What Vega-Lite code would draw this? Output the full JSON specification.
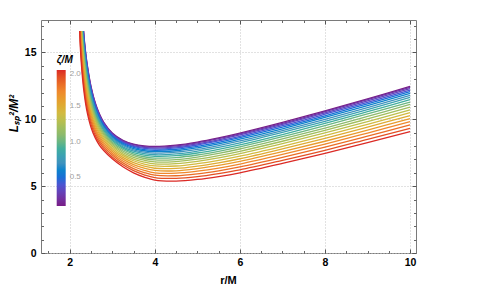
{
"$schema": "https://vega.github.io/schema/vega-lite/v6.json",
"width": 375, "height": 233,
"autosize": {"type": "none"},
"padding": {"left": 41, "top": 20, "right": 62, "bottom": 55},
"background": "white",
"config": {"view": {"stroke": "#7a7a7a", "strokeWidth": 1}, "axis": {"grid": false, "domain": false, "labels": false, "ticks": false}},
"data": {"values": [
{"z":0.1,"r":2.3266,"L":16.6},{"z":0.1,"r":2.35,"L":15.73},{"z":0.1,"r":2.4,"L":14.36},{"z":0.1,"r":2.5,"L":12.47},{"z":0.1,"r":2.6,"L":11.24},{"z":0.1,"r":2.7,"L":10.39},{"z":0.1,"r":2.8,"L":9.78},{"z":0.1,"r":3,"L":8.98},{"z":0.1,"r":3.25,"L":8.43},{"z":0.1,"r":3.5,"L":8.14},{"z":0.1,"r":3.75,"L":8.01},{"z":0.1,"r":4,"L":7.97},{"z":0.1,"r":4.5,"L":8.07},{"z":0.1,"r":5,"L":8.30},{"z":0.1,"r":5.5,"L":8.61},{"z":0.1,"r":6,"L":8.97},{"z":0.1,"r":7,"L":9.77},{"z":0.1,"r":8,"L":10.63},{"z":0.1,"r":9,"L":11.53},{"z":0.1,"r":10,"L":12.46},
{"z":0.2,"r":2.3242,"L":16.6},{"z":0.2,"r":2.35,"L":15.65},{"z":0.2,"r":2.4,"L":14.28},{"z":0.2,"r":2.5,"L":12.40},{"z":0.2,"r":2.6,"L":11.18},{"z":0.2,"r":2.7,"L":10.34},{"z":0.2,"r":2.8,"L":9.73},{"z":0.2,"r":3,"L":8.94},{"z":0.2,"r":3.25,"L":8.39},{"z":0.2,"r":3.5,"L":8.10},{"z":0.2,"r":3.75,"L":7.96},{"z":0.2,"r":4,"L":7.92},{"z":0.2,"r":4.5,"L":8.01},{"z":0.2,"r":5,"L":8.24},{"z":0.2,"r":5.5,"L":8.55},{"z":0.2,"r":6,"L":8.91},{"z":0.2,"r":7,"L":9.70},{"z":0.2,"r":8,"L":10.57},{"z":0.2,"r":9,"L":11.47},{"z":0.2,"r":10,"L":12.39},
{"z":0.3,"r":2.3211,"L":16.6},{"z":0.3,"r":2.35,"L":15.54},{"z":0.3,"r":2.4,"L":14.18},{"z":0.3,"r":2.5,"L":12.32},{"z":0.3,"r":2.6,"L":11.11},{"z":0.3,"r":2.7,"L":10.28},{"z":0.3,"r":2.8,"L":9.68},{"z":0.3,"r":3,"L":8.89},{"z":0.3,"r":3.25,"L":8.33},{"z":0.3,"r":3.5,"L":8.04},{"z":0.3,"r":3.75,"L":7.90},{"z":0.3,"r":4,"L":7.85},{"z":0.3,"r":4.5,"L":7.94},{"z":0.3,"r":5,"L":8.17},{"z":0.3,"r":5.5,"L":8.47},{"z":0.3,"r":6,"L":8.83},{"z":0.3,"r":7,"L":9.62},{"z":0.3,"r":8,"L":10.48},{"z":0.3,"r":9,"L":11.38},{"z":0.3,"r":10,"L":12.30},
{"z":0.4,"r":2.3173,"L":16.6},{"z":0.4,"r":2.35,"L":15.41},{"z":0.4,"r":2.4,"L":14.07},{"z":0.4,"r":2.5,"L":12.22},{"z":0.4,"r":2.6,"L":11.03},{"z":0.4,"r":2.7,"L":10.20},{"z":0.4,"r":2.8,"L":9.61},{"z":0.4,"r":3,"L":8.83},{"z":0.4,"r":3.25,"L":8.27},{"z":0.4,"r":3.5,"L":7.97},{"z":0.4,"r":3.75,"L":7.83},{"z":0.4,"r":4,"L":7.77},{"z":0.4,"r":4.5,"L":7.86},{"z":0.4,"r":5,"L":8.08},{"z":0.4,"r":5.5,"L":8.38},{"z":0.4,"r":6,"L":8.73},{"z":0.4,"r":7,"L":9.52},{"z":0.4,"r":8,"L":10.38},{"z":0.4,"r":9,"L":11.27},{"z":0.4,"r":10,"L":12.19},
{"z":0.5,"r":2.3130,"L":16.6},{"z":0.5,"r":2.35,"L":15.27},{"z":0.5,"r":2.4,"L":13.94},{"z":0.5,"r":2.5,"L":12.11},{"z":0.5,"r":2.6,"L":10.93},{"z":0.5,"r":2.7,"L":10.12},{"z":0.5,"r":2.8,"L":9.53},{"z":0.5,"r":3,"L":8.76},{"z":0.5,"r":3.25,"L":8.20},{"z":0.5,"r":3.5,"L":7.90},{"z":0.5,"r":3.75,"L":7.74},{"z":0.5,"r":4,"L":7.68},{"z":0.5,"r":4.5,"L":7.76},{"z":0.5,"r":5,"L":7.98},{"z":0.5,"r":5.5,"L":8.28},{"z":0.5,"r":6,"L":8.63},{"z":0.5,"r":7,"L":9.41},{"z":0.5,"r":8,"L":10.26},{"z":0.5,"r":9,"L":11.16},{"z":0.5,"r":10,"L":12.07},
{"z":0.6,"r":2.3082,"L":16.6},{"z":0.6,"r":2.35,"L":15.11},{"z":0.6,"r":2.4,"L":13.79},{"z":0.6,"r":2.5,"L":11.99},{"z":0.6,"r":2.6,"L":10.83},{"z":0.6,"r":2.7,"L":10.03},{"z":0.6,"r":2.8,"L":9.45},{"z":0.6,"r":3,"L":8.68},{"z":0.6,"r":3.25,"L":8.12},{"z":0.6,"r":3.5,"L":7.81},{"z":0.6,"r":3.75,"L":7.65},{"z":0.6,"r":4,"L":7.58},{"z":0.6,"r":4.5,"L":7.65},{"z":0.6,"r":5,"L":7.87},{"z":0.6,"r":5.5,"L":8.16},{"z":0.6,"r":6,"L":8.51},{"z":0.6,"r":7,"L":9.29},{"z":0.6,"r":8,"L":10.14},{"z":0.6,"r":9,"L":11.03},{"z":0.6,"r":10,"L":11.94},
{"z":0.7,"r":2.3028,"L":16.6},{"z":0.7,"r":2.35,"L":14.93},{"z":0.7,"r":2.4,"L":13.63},{"z":0.7,"r":2.5,"L":11.86},{"z":0.7,"r":2.6,"L":10.72},{"z":0.7,"r":2.7,"L":9.93},{"z":0.7,"r":2.8,"L":9.36},{"z":0.7,"r":3,"L":8.60},{"z":0.7,"r":3.25,"L":8.04},{"z":0.7,"r":3.5,"L":7.72},{"z":0.7,"r":3.75,"L":7.55},{"z":0.7,"r":4,"L":7.47},{"z":0.7,"r":4.5,"L":7.54},{"z":0.7,"r":5,"L":7.75},{"z":0.7,"r":5.5,"L":8.04},{"z":0.7,"r":6,"L":8.38},{"z":0.7,"r":7,"L":9.16},{"z":0.7,"r":8,"L":10.00},{"z":0.7,"r":9,"L":10.88},{"z":0.7,"r":10,"L":11.79},
{"z":0.8,"r":2.2979,"L":16.6},{"z":0.8,"r":2.3,"L":16.49},{"z":0.8,"r":2.35,"L":14.74},{"z":0.8,"r":2.4,"L":13.46},{"z":0.8,"r":2.5,"L":11.72},{"z":0.8,"r":2.6,"L":10.59},{"z":0.8,"r":2.7,"L":9.82},{"z":0.8,"r":2.8,"L":9.26},{"z":0.8,"r":3,"L":8.51},{"z":0.8,"r":3.25,"L":7.94},{"z":0.8,"r":3.5,"L":7.62},{"z":0.8,"r":3.75,"L":7.44},{"z":0.8,"r":4,"L":7.35},{"z":0.8,"r":4.5,"L":7.41},{"z":0.8,"r":5,"L":7.62},{"z":0.8,"r":5.5,"L":7.90},{"z":0.8,"r":6,"L":8.24},{"z":0.8,"r":7,"L":9.02},{"z":0.8,"r":8,"L":9.85},{"z":0.8,"r":9,"L":10.73},{"z":0.8,"r":10,"L":11.64},
{"z":0.9,"r":2.2934,"L":16.6},{"z":0.9,"r":2.3,"L":16.27},{"z":0.9,"r":2.35,"L":14.54},{"z":0.9,"r":2.4,"L":13.28},{"z":0.9,"r":2.5,"L":11.57},{"z":0.9,"r":2.6,"L":10.46},{"z":0.9,"r":2.7,"L":9.70},{"z":0.9,"r":2.8,"L":9.16},{"z":0.9,"r":3,"L":8.41},{"z":0.9,"r":3.25,"L":7.85},{"z":0.9,"r":3.5,"L":7.51},{"z":0.9,"r":3.75,"L":7.32},{"z":0.9,"r":4,"L":7.23},{"z":0.9,"r":4.5,"L":7.28},{"z":0.9,"r":5,"L":7.48},{"z":0.9,"r":5.5,"L":7.76},{"z":0.9,"r":6,"L":8.09},{"z":0.9,"r":7,"L":8.86},{"z":0.9,"r":8,"L":9.69},{"z":0.9,"r":9,"L":10.57},{"z":0.9,"r":10,"L":11.47},
{"z":1.0,"r":2.2887,"L":16.6},{"z":1.0,"r":2.3,"L":16.04},{"z":1.0,"r":2.35,"L":14.33},{"z":1.0,"r":2.4,"L":13.09},{"z":1.0,"r":2.5,"L":11.41},{"z":1.0,"r":2.6,"L":10.33},{"z":1.0,"r":2.7,"L":9.58},{"z":1.0,"r":2.8,"L":9.05},{"z":1.0,"r":3,"L":8.31},{"z":1.0,"r":3.25,"L":7.74},{"z":1.0,"r":3.5,"L":7.40},{"z":1.0,"r":3.75,"L":7.20},{"z":1.0,"r":4,"L":7.10},{"z":1.0,"r":4.5,"L":7.14},{"z":1.0,"r":5,"L":7.33},{"z":1.0,"r":5.5,"L":7.61},{"z":1.0,"r":6,"L":7.94},{"z":1.0,"r":7,"L":8.70},{"z":1.0,"r":8,"L":9.53},{"z":1.0,"r":9,"L":10.40},{"z":1.0,"r":10,"L":11.29},
{"z":1.1,"r":2.2836,"L":16.6},{"z":1.1,"r":2.3,"L":15.79},{"z":1.1,"r":2.35,"L":14.11},{"z":1.1,"r":2.4,"L":12.89},{"z":1.1,"r":2.5,"L":11.24},{"z":1.1,"r":2.6,"L":10.18},{"z":1.1,"r":2.7,"L":9.46},{"z":1.1,"r":2.8,"L":8.93},{"z":1.1,"r":3,"L":8.20},{"z":1.1,"r":3.25,"L":7.63},{"z":1.1,"r":3.5,"L":7.28},{"z":1.1,"r":3.75,"L":7.07},{"z":1.1,"r":4,"L":6.96},{"z":1.1,"r":4.5,"L":6.99},{"z":1.1,"r":5,"L":7.18},{"z":1.1,"r":5.5,"L":7.45},{"z":1.1,"r":6,"L":7.78},{"z":1.1,"r":7,"L":8.54},{"z":1.1,"r":8,"L":9.35},{"z":1.1,"r":9,"L":10.22},{"z":1.1,"r":10,"L":11.11},
{"z":1.2,"r":2.2782,"L":16.6},{"z":1.2,"r":2.3,"L":15.54},{"z":1.2,"r":2.35,"L":13.88},{"z":1.2,"r":2.4,"L":12.68},{"z":1.2,"r":2.5,"L":11.06},{"z":1.2,"r":2.6,"L":10.03},{"z":1.2,"r":2.7,"L":9.32},{"z":1.2,"r":2.8,"L":8.81},{"z":1.2,"r":3,"L":8.09},{"z":1.2,"r":3.25,"L":7.52},{"z":1.2,"r":3.5,"L":7.16},{"z":1.2,"r":3.75,"L":6.94},{"z":1.2,"r":4,"L":6.81},{"z":1.2,"r":4.5,"L":6.84},{"z":1.2,"r":5,"L":7.02},{"z":1.2,"r":5.5,"L":7.29},{"z":1.2,"r":6,"L":7.61},{"z":1.2,"r":7,"L":8.36},{"z":1.2,"r":8,"L":9.17},{"z":1.2,"r":9,"L":10.03},{"z":1.2,"r":10,"L":10.91},
{"z":1.3,"r":2.2725,"L":16.6},{"z":1.3,"r":2.3,"L":15.27},{"z":1.3,"r":2.35,"L":13.64},{"z":1.3,"r":2.4,"L":12.46},{"z":1.3,"r":2.5,"L":10.88},{"z":1.3,"r":2.6,"L":9.87},{"z":1.3,"r":2.7,"L":9.18},{"z":1.3,"r":2.8,"L":8.68},{"z":1.3,"r":3,"L":7.98},{"z":1.3,"r":3.25,"L":7.40},{"z":1.3,"r":3.5,"L":7.03},{"z":1.3,"r":3.75,"L":6.80},{"z":1.3,"r":4,"L":6.66},{"z":1.3,"r":4.5,"L":6.68},{"z":1.3,"r":5,"L":6.85},{"z":1.3,"r":5.5,"L":7.11},{"z":1.3,"r":6,"L":7.43},{"z":1.3,"r":7,"L":8.18},{"z":1.3,"r":8,"L":8.98},{"z":1.3,"r":9,"L":9.83},{"z":1.3,"r":10,"L":10.71},
{"z":1.4,"r":2.2664,"L":16.6},{"z":1.4,"r":2.3,"L":14.99},{"z":1.4,"r":2.35,"L":13.38},{"z":1.4,"r":2.4,"L":12.23},{"z":1.4,"r":2.5,"L":10.69},{"z":1.4,"r":2.6,"L":9.71},{"z":1.4,"r":2.7,"L":9.04},{"z":1.4,"r":2.8,"L":8.55},{"z":1.4,"r":3,"L":7.86},{"z":1.4,"r":3.25,"L":7.28},{"z":1.4,"r":3.5,"L":6.90},{"z":1.4,"r":3.75,"L":6.65},{"z":1.4,"r":4,"L":6.51},{"z":1.4,"r":4.5,"L":6.51},{"z":1.4,"r":5,"L":6.68},{"z":1.4,"r":5.5,"L":6.93},{"z":1.4,"r":6,"L":7.24},{"z":1.4,"r":7,"L":7.98},{"z":1.4,"r":8,"L":8.78},{"z":1.4,"r":9,"L":9.63},{"z":1.4,"r":10,"L":10.50},
{"z":1.5,"r":2.2600,"L":16.6},{"z":1.5,"r":2.3,"L":14.70},{"z":1.5,"r":2.35,"L":13.12},{"z":1.5,"r":2.4,"L":11.99},{"z":1.5,"r":2.5,"L":10.49},{"z":1.5,"r":2.6,"L":9.54},{"z":1.5,"r":2.7,"L":8.89},{"z":1.5,"r":2.8,"L":8.42},{"z":1.5,"r":3,"L":7.73},{"z":1.5,"r":3.25,"L":7.15},{"z":1.5,"r":3.5,"L":6.76},{"z":1.5,"r":3.75,"L":6.50},{"z":1.5,"r":4,"L":6.34},{"z":1.5,"r":4.5,"L":6.33},{"z":1.5,"r":5,"L":6.50},{"z":1.5,"r":5.5,"L":6.75},{"z":1.5,"r":6,"L":7.05},{"z":1.5,"r":7,"L":7.79},{"z":1.5,"r":8,"L":8.58},{"z":1.5,"r":9,"L":9.42},{"z":1.5,"r":10,"L":10.28},
{"z":1.6,"r":2.2532,"L":16.6},{"z":1.6,"r":2.3,"L":14.41},{"z":1.6,"r":2.35,"L":12.85},{"z":1.6,"r":2.4,"L":11.75},{"z":1.6,"r":2.5,"L":10.29},{"z":1.6,"r":2.6,"L":9.36},{"z":1.6,"r":2.7,"L":8.73},{"z":1.6,"r":2.8,"L":8.28},{"z":1.6,"r":3,"L":7.60},{"z":1.6,"r":3.25,"L":7.02},{"z":1.6,"r":3.5,"L":6.61},{"z":1.6,"r":3.75,"L":6.35},{"z":1.6,"r":4,"L":6.18},{"z":1.6,"r":4.5,"L":6.15},{"z":1.6,"r":5,"L":6.31},{"z":1.6,"r":5.5,"L":6.55},{"z":1.6,"r":6,"L":6.85},{"z":1.6,"r":7,"L":7.58},{"z":1.6,"r":8,"L":8.36},{"z":1.6,"r":9,"L":9.20},{"z":1.6,"r":10,"L":10.05},
{"z":1.7,"r":2.2477,"L":16.6},{"z":1.7,"r":2.25,"L":16.42},{"z":1.7,"r":2.3,"L":14.10},{"z":1.7,"r":2.35,"L":12.57},{"z":1.7,"r":2.4,"L":11.49},{"z":1.7,"r":2.5,"L":10.08},{"z":1.7,"r":2.6,"L":9.18},{"z":1.7,"r":2.7,"L":8.57},{"z":1.7,"r":2.8,"L":8.13},{"z":1.7,"r":3,"L":7.47},{"z":1.7,"r":3.25,"L":6.88},{"z":1.7,"r":3.5,"L":6.47},{"z":1.7,"r":3.75,"L":6.19},{"z":1.7,"r":4,"L":6.00},{"z":1.7,"r":4.5,"L":5.97},{"z":1.7,"r":5,"L":6.12},{"z":1.7,"r":5.5,"L":6.35},{"z":1.7,"r":6,"L":6.65},{"z":1.7,"r":7,"L":7.37},{"z":1.7,"r":8,"L":8.14},{"z":1.7,"r":9,"L":8.97},{"z":1.7,"r":10,"L":9.82},
{"z":1.8,"r":2.2434,"L":16.6},{"z":1.8,"r":2.25,"L":16.08},{"z":1.8,"r":2.3,"L":13.78},{"z":1.8,"r":2.35,"L":12.29},{"z":1.8,"r":2.4,"L":11.23},{"z":1.8,"r":2.5,"L":9.86},{"z":1.8,"r":2.6,"L":9.00},{"z":1.8,"r":2.7,"L":8.41},{"z":1.8,"r":2.8,"L":7.98},{"z":1.8,"r":3,"L":7.33},{"z":1.8,"r":3.25,"L":6.74},{"z":1.8,"r":3.5,"L":6.31},{"z":1.8,"r":3.75,"L":6.02},{"z":1.8,"r":4,"L":5.82},{"z":1.8,"r":4.5,"L":5.78},{"z":1.8,"r":5,"L":5.92},{"z":1.8,"r":5.5,"L":6.15},{"z":1.8,"r":6,"L":6.44},{"z":1.8,"r":7,"L":7.15},{"z":1.8,"r":8,"L":7.92},{"z":1.8,"r":9,"L":8.74},{"z":1.8,"r":10,"L":9.58},
{"z":1.9,"r":2.2390,"L":16.6},{"z":1.9,"r":2.25,"L":15.72},{"z":1.9,"r":2.3,"L":13.46},{"z":1.9,"r":2.35,"L":11.99},{"z":1.9,"r":2.4,"L":10.96},{"z":1.9,"r":2.5,"L":9.64},{"z":1.9,"r":2.6,"L":8.80},{"z":1.9,"r":2.7,"L":8.24},{"z":1.9,"r":2.8,"L":7.83},{"z":1.9,"r":3,"L":7.19},{"z":1.9,"r":3.25,"L":6.60},{"z":1.9,"r":3.5,"L":6.16},{"z":1.9,"r":3.75,"L":5.85},{"z":1.9,"r":4,"L":5.64},{"z":1.9,"r":4.5,"L":5.58},{"z":1.9,"r":5,"L":5.71},{"z":1.9,"r":5.5,"L":5.94},{"z":1.9,"r":6,"L":6.22},{"z":1.9,"r":7,"L":6.93},{"z":1.9,"r":8,"L":7.68},{"z":1.9,"r":9,"L":8.50},{"z":1.9,"r":10,"L":9.33},
{"z":2.0,"r":2.2345,"L":16.6},{"z":2.0,"r":2.25,"L":15.36},{"z":2.0,"r":2.3,"L":13.12},{"z":2.0,"r":2.35,"L":11.69},{"z":2.0,"r":2.4,"L":10.69},{"z":2.0,"r":2.5,"L":9.41},{"z":2.0,"r":2.6,"L":8.61},{"z":2.0,"r":2.7,"L":8.06},{"z":2.0,"r":2.8,"L":7.67},{"z":2.0,"r":3,"L":7.05},{"z":2.0,"r":3.25,"L":6.45},{"z":2.0,"r":3.5,"L":6.00},{"z":2.0,"r":3.75,"L":5.68},{"z":2.0,"r":4,"L":5.45},{"z":2.0,"r":4.5,"L":5.38},{"z":2.0,"r":5,"L":5.50},{"z":2.0,"r":5.5,"L":5.72},{"z":2.0,"r":6,"L":6.00},{"z":2.0,"r":7,"L":6.70},{"z":2.0,"r":8,"L":7.45},{"z":2.0,"r":9,"L":8.25},{"z":2.0,"r":10,"L":9.08}
]},
"layer": [
{
"mark": {"type": "line", "strokeWidth": 1.3, "interpolate": "catmull-rom", "clip": true},
"encoding": {
"x": {"field": "r", "type": "quantitative", "scale": {"domain": [1.325, 10.14], "nice": false, "zero": false},
 "axis": {"orient": "bottom", "values": [2,4,6,8,10], "grid": true, "gridColor": "#c4c4c4", "gridDash": [1,2], "gridWidth": 1, "labels": true, "ticks": false, "tickSize": 0, "labelPadding": 4, "labelFont": "Liberation Sans", "labelFontWeight": "bold", "labelFontSize": 10.5, "labelColor": "#000", "title": "r/M", "titleFont": "Liberation Sans", "titleFontWeight": "bold", "titleFontSize": 11, "titleColor": "#000", "titleX": 187, "titleY": 27, "titleBaseline": "middle", "titleAlign": "center"}},
"y": {"field": "L", "type": "quantitative", "scale": {"domain": [0, 17.43], "nice": false, "zero": false},
 "axis": {"orient": "left", "values": [0,5,10,15], "grid": true, "gridColor": "#c4c4c4", "gridDash": [1,2], "gridWidth": 1, "labels": true, "ticks": false, "tickSize": 0, "labelPadding": 5, "labelFont": "Liberation Sans", "labelFontWeight": "bold", "labelFontSize": 10.5, "labelColor": "#000", "title": "Lₛₚ²/M²", "titleFont": "Liberation Sans", "titleFontWeight": "bold", "titleFontStyle": "italic", "titleFontSize": 12, "titleColor": "#000", "titleX": -28, "titleY": 93, "titleAngle": 270, "titleBaseline": "middle", "titleAlign": "center"}},
"color": {"field": "z", "type": "quantitative",
 "scale": {"domain": [0.1, 0.4167, 0.7333, 1.05, 1.3667, 1.6833, 2.0], "range": ["#781c86", "#4358d6", "#4e97b9", "#84b874", "#cfbf45", "#f08c2e", "#db2a25"]},
 "legend": {"orient": "none", "legendX": 15.7, "legendY": 35, "direction": "vertical", "gradientLength": 136, "gradientThickness": 9, "gradientStrokeWidth": 0, "title": "ζ/M", "titleFont": "Liberation Sans", "titleFontWeight": "bold", "titleFontStyle": "italic", "titleFontSize": 10, "titleColor": "#000", "titlePadding": 5, "values": [0.5, 1, 1.5, 2], "format": ".1f", "labelFont": "Liberation Sans", "labelFontSize": 8, "labelColor": "#a0a0a0", "labelOffset": 4, "labelBaseline": "middle", "labelOverlap": false}},
"detail": {"field": "z", "type": "nominal"}
}
},
{
"mark": {"type": "point", "opacity": 0},
"encoding": {
"x": {"field": "r", "type": "quantitative", "axis": {"orient": "bottom", "values": [2,4,6,8,10], "ticks": true, "tickSize": -4, "tickColor": "#555", "labels": false, "grid": false, "domain": false, "title": null}},
"y": {"field": "L", "type": "quantitative", "axis": {"orient": "left", "values": [0,5,10,15], "ticks": true, "tickSize": -4, "tickColor": "#555", "labels": false, "grid": false, "domain": false, "title": null}}
}
},
{
"mark": {"type": "point", "opacity": 0},
"encoding": {
"x": {"field": "r", "type": "quantitative", "axis": {"orient": "bottom", "values": [1.5,2.5,3,3.5,4.5,5,5.5,6.5,7,7.5,8.5,9,9.5], "ticks": true, "tickSize": -2.5, "tickColor": "#666", "labels": false, "grid": false, "domain": false, "title": null}},
"y": {"field": "L", "type": "quantitative", "axis": {"orient": "left", "values": [1,2,3,4,6,7,8,9,11,12,13,14,16,17], "ticks": true, "tickSize": -2.5, "tickColor": "#666", "labels": false, "grid": false, "domain": false, "title": null}}
}
},
{
"mark": {"type": "point", "opacity": 0},
"encoding": {
"x": {"field": "r", "type": "quantitative", "axis": {"orient": "top", "values": [2,4,6,8,10], "ticks": true, "tickSize": -4, "tickColor": "#555", "labels": false, "grid": false, "domain": false, "title": null}},
"y": {"field": "L", "type": "quantitative", "axis": {"orient": "right", "values": [0,5,10,15], "ticks": true, "tickSize": -4, "tickColor": "#555", "labels": false, "grid": false, "domain": false, "title": null}}
}
},
{
"mark": {"type": "point", "opacity": 0},
"encoding": {
"x": {"field": "r", "type": "quantitative", "axis": {"orient": "top", "values": [1.5,2.5,3,3.5,4.5,5,5.5,6.5,7,7.5,8.5,9,9.5], "ticks": true, "tickSize": -2.5, "tickColor": "#666", "labels": false, "grid": false, "domain": false, "title": null}},
"y": {"field": "L", "type": "quantitative", "axis": {"orient": "right", "values": [1,2,3,4,6,7,8,9,11,12,13,14,16,17], "ticks": true, "tickSize": -2.5, "tickColor": "#666", "labels": false, "grid": false, "domain": false, "title": null}}
}
}
],
"resolve": {"axis": {"x": "independent", "y": "independent"}}
}
